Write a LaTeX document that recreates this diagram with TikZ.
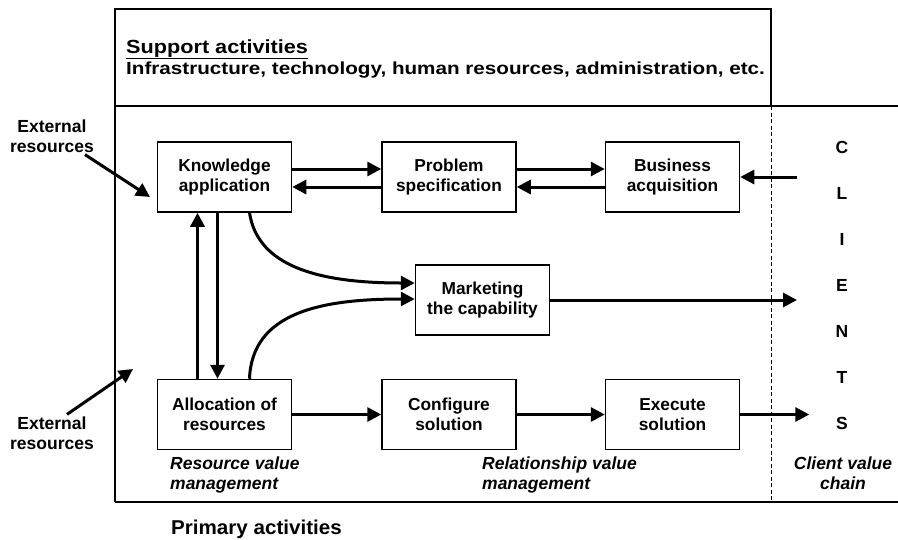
\documentclass[tikz,border=0pt]{standalone}
\usepackage{graphicx}
\usepackage{fontspec}
\setmainfont{Liberation Sans}
\usetikzlibrary{positioning, calc, arrows.meta}
\tikzset{%
  proc/.style = {rectangle, draw, line width=1.5pt, fill=white,
                 minimum width=134pt, minimum height=70pt, inner sep=2pt,
                 align=center, font=\bfseries\fontsize{17.3}{20}\selectfont},
  flow/.style = {-{Triangle[length=14pt, width=14pt]}, line width=3pt},
  frame/.style = {line width=1.4pt},
  ext/.style = {align=center, inner sep=2pt, font=\bfseries\fontsize{17.5}{20}\selectfont},
  lbl/.style = {align=left, inner sep=0pt, font=\bfseries\itshape\fontsize{17.5}{20}\selectfont},
  client/.style = {font=\bfseries\fontsize{17.5}{20}\selectfont},
  title/.style = {anchor=base west, inner sep=0pt}
  }

\begin{document}
\begin{tikzpicture}[x=1pt, y=-1pt]
  \useasboundingbox (0,0) rectangle (898,539);

  % frame: support block on top, primary block below, client column on the right
  \draw[frame] (115,502) -- (115,9) -- (771,9) -- (771,106);
  \draw[frame] (115,106) -- (898,106);
  \draw[frame] (115,502) -- (898,502);
  \draw[line width=0.9pt, dash pattern=on 4pt off 2.5pt] (771,106) -- (771,502);

  \node (supp) [title, font=\bfseries\fontsize{19}{20}\selectfont]
    at (126,53) {\scalebox{1.14}[1]{\underline{Support activities}}};
  \node (infra) [title, font=\bfseries\fontsize{17.5}{20}\selectfont]
    at (126,74) {\scalebox{1.18}[1]{Infrastructure, technology, human resources, administration, etc.}};

  % primary activities
  \node (know) [proc] at (224.5,177) {Knowledge\\application};
  \node (prob) [proc, right = 89pt of know] {Problem\\specification};
  \node (busi) [proc, right = 88pt of prob] {Business\\acquisition};
  \node (alloc) [proc] at (224.5,414.5) {Allocation of\\resources};
  \node (conf) [proc, right = 89pt of alloc] {Configure\\solution};
  \node (exec) [proc, right = 88pt of conf] {Execute\\solution};
  \node (mkt) [proc] at (482.5,300) {Marketing\\the capability};

  % top row, both ways
  \draw[flow] ([yshift=8pt]know.east) -- ([yshift=8pt]prob.west);
  \draw[flow] ([yshift=-10pt]prob.west) -- ([yshift=-10pt]know.east);
  \draw[flow] ([yshift=8pt]prob.east) -- ([yshift=8pt]busi.west);
  \draw[flow] ([yshift=-10pt]busi.west) -- ([yshift=-10pt]prob.east);

  % knowledge <-> allocation
  \draw[flow] ([xshift=-27pt]alloc.north) -- ([xshift=-27pt]know.south);
  \draw[flow] ([xshift=-7pt]know.south) -- ([xshift=-7pt]alloc.north);

  % both feed the marketing box
  \draw[flow] ([xshift=25pt]know.south)
    .. controls (258,268) and (322,283) .. ([yshift=17pt]mkt.west);
  \draw[flow] ([xshift=25pt]alloc.north)
    .. controls (252,312) and (322,299) .. ([yshift=1pt]mkt.west);

  % bottom row
  \draw[flow] (alloc) -- (conf);
  \draw[flow] (conf) -- (exec);

  % clients
  \foreach \ch [count=\i] in {C,L,I,E,N,T,S}
    \node (cl\i) [client] at (842,{147+46*(\i-1)}) {\ch};
  \coordinate (cliIn) at (797,177);
  \coordinate (execOut) at ($(exec.east)+(69,0)$);
  \draw[flow] (cliIn) -- (busi.east);
  \draw[flow] (mkt.east) -- (mkt.east -| cliIn);
  \draw[flow] (exec.east) -- (execOut);

  % external resources
  \node (extA) [ext] at (52,136) {External\\resources};
  \node (extB) [ext] at (52,433) {External\\resources};
  \coordinate (extAtip) at (150,197);
  \coordinate (extBtip) at (133,369);
  \draw[flow] ([xshift=33pt]extA.south) -- (extAtip);
  \draw[flow] ([xshift=15pt]extB.north) -- (extBtip);

  % value chain labels (base = last line)
  \node (rvm) [lbl, anchor=base west] at (170,489) {Resource value\\management};
  \node (relvm) [lbl, anchor=base west] at (482,489) {Relationship value\\management};
  \node (cvc) [lbl, align=center, anchor=base] at (843,489) {Client value\\chain};

  \node (prim) [title, font=\bfseries\fontsize{20}{22}\selectfont]
    at (171,534) {\scalebox{1.03}[1]{Primary activities}};
\end{tikzpicture}
\end{document}
